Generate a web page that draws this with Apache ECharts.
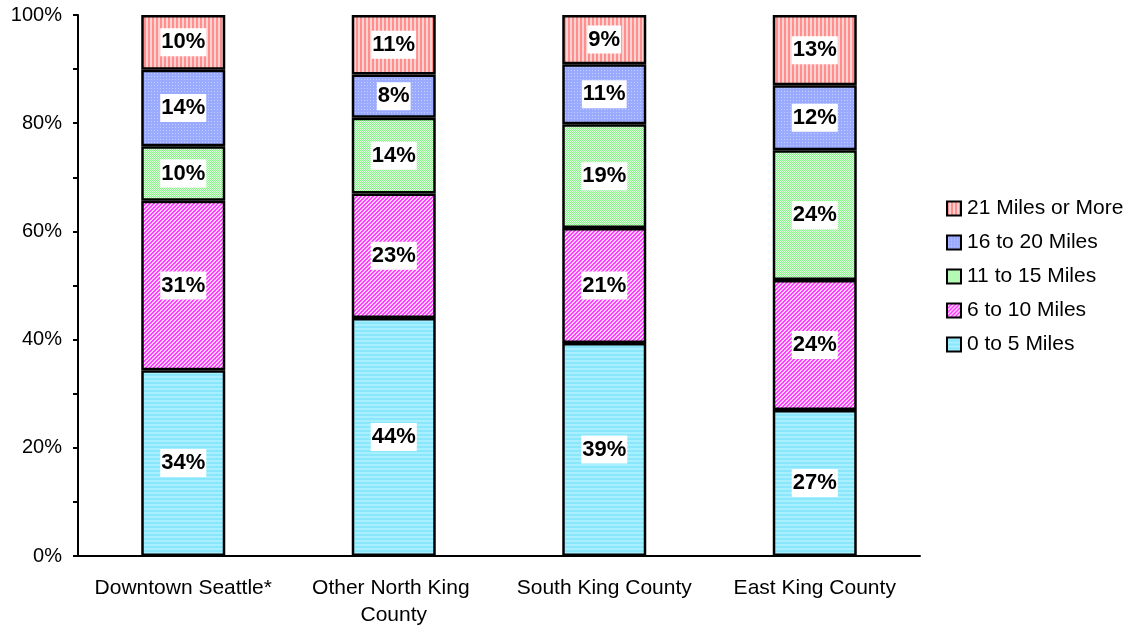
<!DOCTYPE html>
<html>
<head>
<meta charset="utf-8">
<script src="https://cdn.jsdelivr.net/npm/echarts@6/dist/echarts.min.js"></script>
<style>
  html, body { margin: 0; padding: 0; background: #fff; }
  #chart { width: 1133px; height: 629px; }
</style>
</head>
<body>
<div id="chart"></div>
<script>
// categories and series values (percent shares as printed on the bars)
const regions = ['Downtown Seattle*', 'Other North King County', 'South King County', 'East King County'];
const miles0to5 = [34, 44, 39, 27];
const miles6to10 = [31, 23, 21, 24];
const miles11to15 = [10, 14, 19, 24];
const miles16to20 = [14, 8, 11, 12];
const miles21plus = [10, 11, 9, 13];
const seriesNames = ['0 to 5 Miles', '6 to 10 Miles', '11 to 15 Miles', '16 to 20 Miles', '21 Miles or More'];
const yTicks = [0, 20, 40, 60, 80, 100];

// small tiled canvases to imitate the Excel fill patterns
function pattern(w, h, paint) {
    const c = document.createElement('canvas');
    c.width = w; c.height = h;
    const ctx = c.getContext('2d');
    for (let y = 0; y < h; y++) {
        for (let x = 0; x < w; x++) {
            ctx.fillStyle = paint(x, y);
            ctx.fillRect(x, y, 1, 1);
        }
    }
    return { image: c, repeat: 'repeat' };
}
const fills = [
    pattern(1, 4, (x, y) => y < 2 ? '#a8f0ff' : '#8ae6fb'),
    pattern(4, 4, (x, y) => ((x + y) % 4 < 2) ? '#ff3cff' : '#fbd0fb'),
    pattern(2, 2, (x, y) => ((x + y) % 2 === 0) ? '#88f588' : '#e0ffe0'),
    pattern(3, 3, (x, y) => (x === 1 && y === 1) ? '#c4ceff' : '#9aaaff'),
    pattern(4, 1, (x) => x < 2 ? '#ff8f8f' : '#ffd2d2')
];

const raw = [miles0to5, miles6to10, miles11to15, miles16to20, miles21plus];
// 100% stacked: normalise each column to its total
const totals = regions.map((_, i) => raw.reduce((s, arr) => s + arr[i], 0));

const chart = echarts.init(document.getElementById('chart'));
const font = 'Liberation Sans, Arial, sans-serif';

chart.setOption({
    animation: false,
    textStyle: { fontFamily: font },
    grid: { left: 78, right: 213, top: 15, bottom: 72 },
    legend: {
        orient: 'vertical',
        left: 946,
        top: 198,
        padding: 0,
        itemWidth: 14,
        itemHeight: 14,
        itemGap: 13,
        icon: 'rect',
        data: seriesNames.slice().reverse(),
        textStyle: { fontSize: 21, lineHeight: 21, color: '#000', fontFamily: font, padding: [0, 0, 0, 1] }
    },
    xAxis: {
        type: 'category',
        data: regions,
        axisLine: { lineStyle: { color: '#000', width: 2 } },
        axisTick: { length: 6, lineStyle: { color: '#000', width: 2 } },
        axisLabel: {
            color: '#000', fontSize: 21, margin: 19, lineHeight: 27,
            width: 190, overflow: 'break', interval: 0
        }
    },
    yAxis: {
        type: 'value',
        min: 0, max: 100, interval: 10,
        splitLine: { show: false },
        axisLine: { show: true, lineStyle: { color: '#000', width: 2 } },
        axisTick: { show: true, length: 5, lineStyle: { color: '#000', width: 2 } },
        axisLabel: {
            color: '#000', fontSize: 20, margin: 16,
            formatter: v => yTicks.includes(v) ? v + '%' : ''
        }
    },
    series: seriesNames.map((name, s) => ({
        name: name,
        type: 'bar',
        stack: 'total',
        barWidth: 84,
        data: raw[s].map((v, i) => ({ value: v / totals[i] * 100, raw: v })),
        itemStyle: { color: fills[s], borderColor: '#000', borderWidth: 2.5 },
        label: {
            show: true,
            position: 'inside',
            color: '#000',
            fontSize: 22,
            fontWeight: 'bold',
            fontFamily: font,
            backgroundColor: '#fff',
            padding: [4, 1, 2, 1],
            formatter: p => p.data.raw + '%'
        }
    }))
});
</script>
</body>
</html>
